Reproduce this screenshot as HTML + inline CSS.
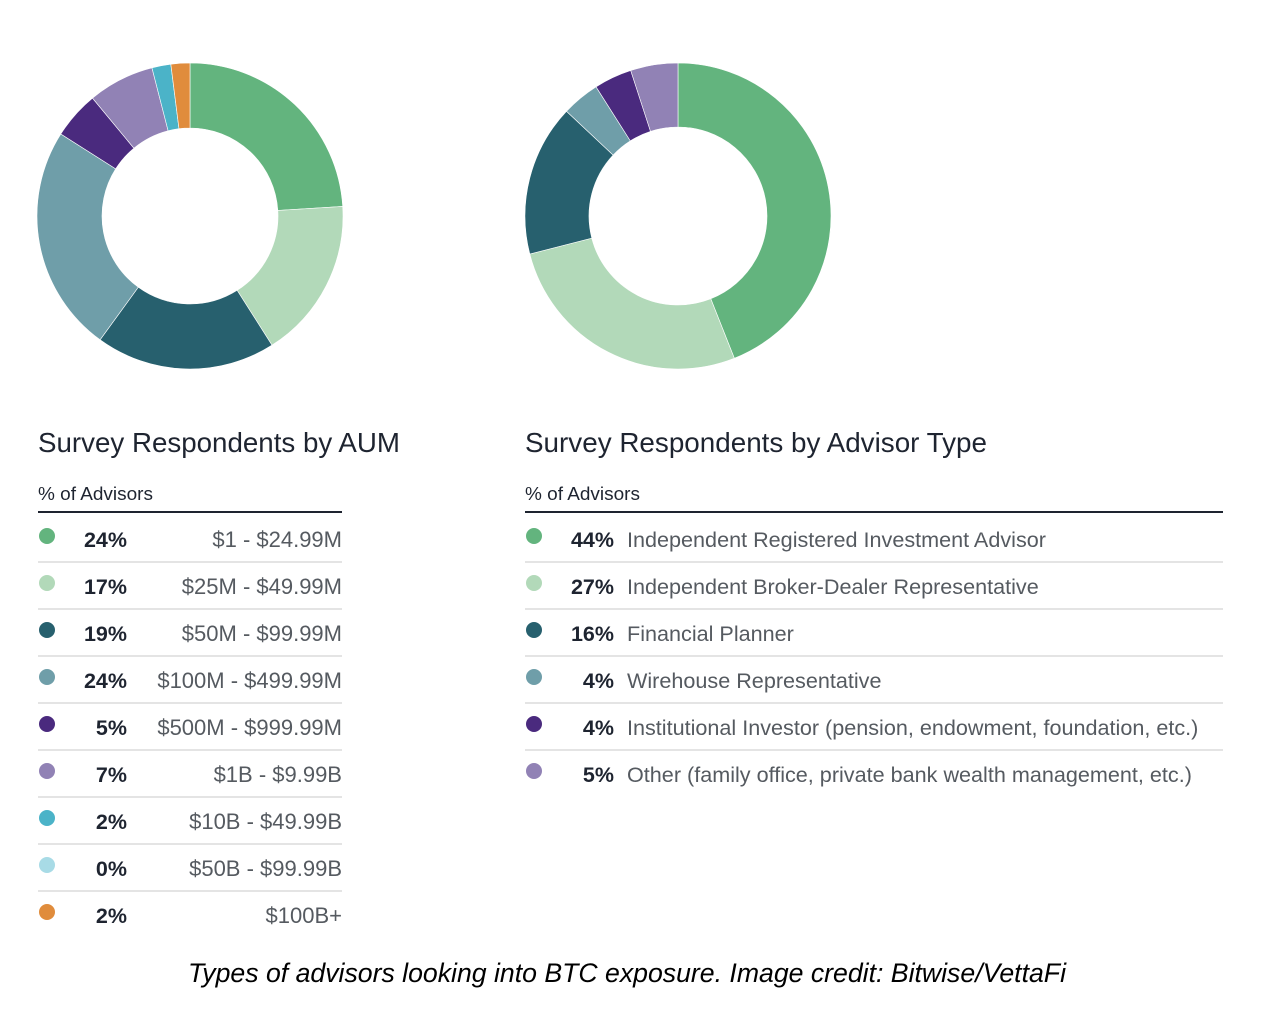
<!DOCTYPE html>
<html><head><meta charset="utf-8"><style>
body{margin:0;background:#fff;width:1282px;height:1030px;overflow:hidden;font-family:"Liberation Sans",sans-serif}
</style></head><body>
<svg id="s" width="1282" height="1030" xmlns="http://www.w3.org/2000/svg">
<g id="d1"></g>
<g id="d2"></g>
<text x="38" y="452" font-size="27.5" fill="#1e2430" textLength="362" lengthAdjust="spacingAndGlyphs">Survey Respondents by AUM</text>
<text x="525" y="452" font-size="27.5" fill="#1e2430" textLength="462" lengthAdjust="spacingAndGlyphs">Survey Respondents by Advisor Type</text>
<text x="38" y="500" font-size="18" fill="#1e2430" textLength="115" lengthAdjust="spacingAndGlyphs">% of Advisors</text>
<text x="525" y="500" font-size="18" fill="#1e2430" textLength="115" lengthAdjust="spacingAndGlyphs">% of Advisors</text>
<line x1="38" y1="512" x2="342" y2="512" stroke="#1e2430" stroke-width="2"/>
<line x1="525" y1="512" x2="1223" y2="512" stroke="#1e2430" stroke-width="2"/>
<g id="l1"></g>
<g id="l2"></g>
<text x="627" y="982" font-size="26.5" font-style="italic" text-anchor="middle" fill="#000" textLength="878" lengthAdjust="spacingAndGlyphs">Types of advisors looking into BTC exposure. Image credit: Bitwise/VettaFi</text>
</svg>
<script>
const aumLabels=["$1 - $24.99M","$25M - $49.99M","$50M - $99.99M","$100M - $499.99M","$500M - $999.99M","$1B - $9.99B","$10B - $49.99B","$50B - $99.99B","$100B+"];
const aumValues=[24,17,19,24,5,7,2,0,2];
const aumColors=["#63b47e","#b2d9b9","#27606e","#6f9ea9","#4a2a7e","#9182b5","#4bb3c8","#a8dbe6","#e08c3c"];
const typeLabels=["Independent Registered Investment Advisor","Independent Broker-Dealer Representative","Financial Planner","Wirehouse Representative","Institutional Investor (pension, endowment, foundation, etc.)","Other (family office, private bank wealth management, etc.)"];
const typeValues=[44,27,16,4,4,5];
const typeColors=["#63b47e","#b2d9b9","#27606e","#6f9ea9","#4a2a7e","#9182b5"];
const NS="http://www.w3.org/2000/svg";
function mk(t,a,p){const e=document.createElementNS(NS,t);for(const k in a)e.setAttribute(k,a[k]);p.appendChild(e);return e;}
function donut(g,vals,cols,cx,cy,R,r,name){
  const tot=vals.reduce((a,b)=>a+b,0);let a0=0;
  vals.forEach((v,i)=>{if(v<=0)return;const a1=a0+v/tot*2*Math.PI;
    const p=(rad,a)=>[cx+rad*Math.sin(a),cy-rad*Math.cos(a)];
    const [x1,y1]=p(R,a0),[x2,y2]=p(R,a1),[x3,y3]=p(r,a1),[x4,y4]=p(r,a0);const lg=a1-a0>Math.PI?1:0;
    const e=mk("path",{d:`M${x1},${y1}A${R},${R} 0 ${lg} 1 ${x2},${y2}L${x3},${y3}A${r},${r} 0 ${lg} 0 ${x4},${y4}Z`,fill:cols[i],stroke:"#fff","stroke-width":"0.6"},g);
    
    
    a0=a1;});
}
donut(document.getElementById("d1"),aumValues,aumColors,190,216,153,88,"aum");
donut(document.getElementById("d2"),typeValues,typeColors,678,216,153,89,"type");
function legend(g,labels,vals,cols,o){
  labels.forEach((lb,i)=>{const y=539+i*47;
    const c=mk("circle",{cx:o.dot,cy:y-3,r:8,fill:cols[i]},g);
    
    
    const p=mk("text",{x:o.pct,y:y+8,"font-size":21.5,"font-weight":"bold","text-anchor":"end",fill:"#1e2430"},g);p.textContent=vals[i]+"%";
    
    
    const t=mk("text",{x:o.lx,y:y+8,"font-size":o.fs,"text-anchor":o.anchor,fill:"#555a60"},g);t.textContent=lb;
    
    
    if(i<labels.length-1){const l=mk("line",{x1:o.x1,x2:o.x2,y1:y+23,y2:y+23,stroke:"#d4d4d4","stroke-width":1.2},g);
      
      }
  });
}
legend(document.getElementById("l1"),aumLabels,aumValues,aumColors,{dot:47,pct:127,lx:342,anchor:"end",x1:38,x2:342,n:"aum",fs:22});
legend(document.getElementById("l2"),typeLabels,typeValues,typeColors,{dot:534,pct:614,lx:627,anchor:"start",x1:525,x2:1223,n:"type",fs:21.6});
</script>
</body></html>
